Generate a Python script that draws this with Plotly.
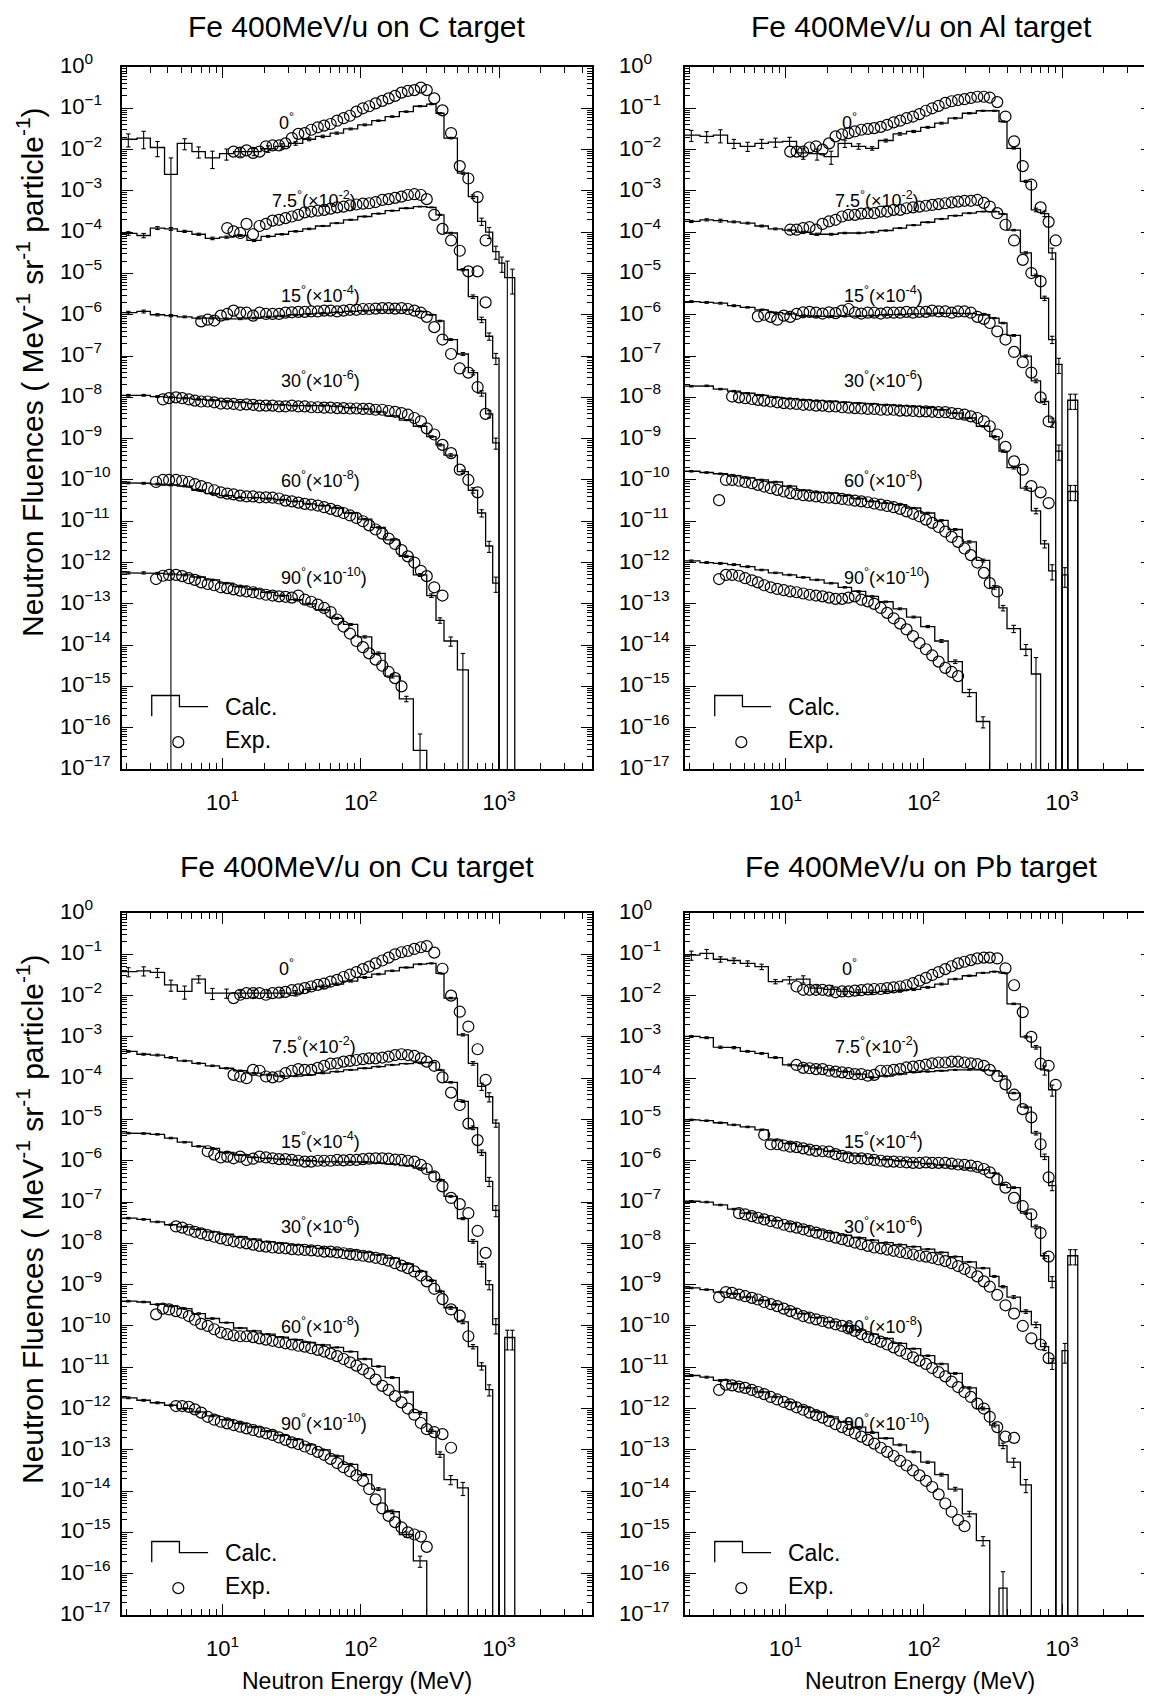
import plotly.graph_objects as go

FONT = "Liberation Sans, Arial, Helvetica, sans-serif"

# ---------------- data ----------------
# calculated histogram bin edges (MeV)
CALC_EDGES = [1.8, 2.4, 3.0, 3.8, 4.7, 6.0, 7.5, 9.5, 12, 15, 19, 24, 30, 38, 47, 60, 75, 95,
              120, 150, 190, 240, 300, 350, 400, 500, 600, 700, 800, 900, 1000, 1100, 1200, 1300]
# experimental energy grid (MeV)
EXP_E = [3.0, 3.3, 3.7, 4.1, 4.6, 5.1, 5.7, 6.3, 7.0, 7.8, 8.7, 9.7, 10.8, 12.0, 13.4, 14.9, 16.6,
         18.5, 20.6, 23, 25.6, 28.5, 31.7, 35.3, 39.3, 43.8, 48.8, 54.3, 60.5, 67.4, 75, 83.5, 93,
         103.6, 115, 128, 143, 159, 177, 197, 219, 244, 272, 300, 340, 390, 450, 520, 600, 700,
         800, 900, 1000]

TARGETS = ["C", "Al", "Cu", "Pb"]
PREFIX = ["C", "AL", "CU", "PB"]
ANGLES = ["0", "7.5", "15", "30", "60", "90"]
SCALE_POW = [0, -2, -4, -6, -8, -10]

# values: log10 of fluence (MeV-1 sr-1 particle-1), None = empty bin
# ---- C target ----
C_A0_CALC_LOG = [-1.75, -1.72, -1.95, -2.6, -1.85, -2.05, -2.2, -2.1, -2.05, -2.05, -1.98, -1.92, -1.85, -1.75, -1.68, -1.6, -1.5, -1.4, -1.3, -1.2, -1.08, -0.95, -0.9, -1.12, -1.72, -2.57, -3.14, -3.74, -4.0, -4.47, -4.75, -5.1, -5.1]
C_A1_CALC_LOG = [-2.03, -2.08, -1.9, -1.92, -1.98, -2.05, -2.15, -2.12, -2.08, -2.2, -2.1, -2.05, -1.98, -1.92, -1.85, -1.78, -1.7, -1.62, -1.55, -1.48, -1.42, -1.38, -1.4, -1.58, -2.02, -2.91, -3.56, -4.12, -4.52, -5.05, None, None, None]
C_A2_CALC_LOG = [-1.95, -1.92, -2.0, -2.02, -2.05, -2.08, -2.08, -2.1, -2.1, -2.08, -2.05, -2.03, -2.0, -1.98, -1.96, -1.94, -1.92, -1.9, -1.88, -1.87, -1.88, -1.92, -2.0, -2.15, -2.6, -2.95, -3.4, -3.9, -4.4, -5.1, None, None, None]
C_A3_CALC_LOG = [-1.95, -1.95, -1.98, -2.0, -2.02, -2.05, -2.07, -2.1, -2.12, -2.15, -2.17, -2.18, -2.2, -2.2, -2.2, -2.22, -2.25, -2.28, -2.35, -2.45, -2.55, -2.7, -2.95, -3.15, -3.4, -3.8, -4.25, -4.8, -5.6, -6.5, None, None, None]
C_A4_CALC_LOG = [-2.07, -2.08, -2.1, -2.12, -2.15, -2.25, -2.33, -2.38, -2.42, -2.43, -2.45, -2.48, -2.52, -2.58, -2.62, -2.68, -2.8, -2.95, -3.15, -3.45, -3.85, -4.3, -4.8, -5.4, -5.9, -6.6, None, None, None, None, None, None, None]
C_A5_CALC_LOG = [-2.25, -2.25, -2.26, -2.28, -2.3, -2.35, -2.42, -2.5, -2.58, -2.65, -2.72, -2.8, -2.9, -3.0, -3.15, -3.35, -3.5, -3.8, -4.2, -4.75, -5.3, -6.55, None, None, None, None, None, None, None, None, None, None, None]
C_A0_ERR_PCT = [35, 45, 40, 150, 30, 30, 45, 30, 25, 20, 18, 15, 10, 8, 7, 6, 5, 5, 4, 4, 4, 3, 3, 3, 4, 6, 10, 20, 30, 35, 40, 150, 60]
C_A1_ERR_PCT = [10, 12, 8, 8, 6, 6, 7, 6, 5, 6, 5, 4, 4, 4, 3, 3, 3, 3, 3, 3, 3, 2, 2, 3, 4, 6, 10, 15, 20, 30, 0, 0, 0]
C_A2_ERR_PCT = [8, 8, 6, 6, 5, 5, 5, 5, 4, 4, 4, 4, 3, 3, 3, 3, 3, 3, 3, 2, 2, 2, 3, 4, 5, 8, 12, 15, 20, 30, 0, 0, 0]
C_A3_ERR_PCT = [5, 5, 5, 4, 4, 4, 4, 4, 3, 3, 3, 3, 3, 3, 3, 3, 3, 3, 3, 3, 3, 4, 5, 6, 8, 10, 15, 20, 30, 40, 0, 0, 0]
C_A4_ERR_PCT = [5, 5, 5, 5, 4, 4, 4, 4, 4, 3, 3, 3, 3, 3, 3, 3, 3, 4, 4, 5, 6, 8, 10, 15, 25, 150, 0, 0, 0, 0, 0, 0, 0]
C_A5_ERR_PCT = [6, 6, 5, 5, 5, 5, 4, 4, 4, 4, 4, 4, 4, 4, 4, 5, 5, 6, 8, 10, 15, 150, 0, 0, 0, 0, 0, 0, 0, 0, 0, 0, 0]
C_A0_EXP_I0 = 13
C_A0_EXP_LOG = [-2.05, -2.07, -2.02, -2.08, -2.05, -1.92, -1.9, -1.9, -1.85, -1.72, -1.62, -1.6, -1.52, -1.46, -1.42, -1.38, -1.3, -1.24, -1.18, -1.08, -1.0, -0.95, -0.88, -0.82, -0.76, -0.7, -0.62, -0.58, -0.56, -0.5, -0.56, -0.76, -1.05, -1.6, -2.4, -2.7, -3.15, -4.2]
C_A1_EXP_I0 = 12
C_A1_EXP_LOG = [-1.9, -1.98, -2.02, -1.8, -2.05, -1.85, -1.8, -1.72, -1.7, -1.66, -1.62, -1.58, -1.52, -1.5, -1.48, -1.46, -1.43, -1.4, -1.38, -1.35, -1.33, -1.31, -1.3, -1.27, -1.22, -1.2, -1.17, -1.14, -1.1, -1.08, -1.1, -1.2, -1.58, -1.92, -2.2, -2.45, -2.95, -2.95, -3.7]
C_A2_EXP_I0 = 8
C_A2_EXP_LOG = [-2.16, -2.12, -2.14, -2.02, -1.98, -1.9, -1.95, -1.95, -2.02, -1.95, -1.98, -1.98, -1.98, -1.95, -1.94, -1.93, -1.93, -1.92, -1.92, -1.9, -1.9, -1.92, -1.9, -1.88, -1.88, -1.86, -1.86, -1.85, -1.84, -1.84, -1.85, -1.84, -1.86, -1.9, -1.95, -2.05, -2.3, -2.6, -2.95, -3.3, -3.4, -3.75, -4.4]
C_A3_EXP_I0 = 2
C_A3_EXP_LOG = [-2.05, -2.02, -2.0, -2.02, -2.05, -2.08, -2.1, -2.1, -2.12, -2.15, -2.15, -2.16, -2.18, -2.17, -2.18, -2.2, -2.2, -2.2, -2.22, -2.22, -2.2, -2.22, -2.22, -2.24, -2.24, -2.25, -2.25, -2.26, -2.26, -2.27, -2.27, -2.28, -2.28, -2.3, -2.3, -2.33, -2.35, -2.38, -2.42, -2.5, -2.58, -2.75, -2.9, -3.15, -3.35, -3.75, -4.0, -4.3]
C_A4_EXP_I0 = 1
C_A4_EXP_LOG = [-2.05, -2.0, -2.0, -2.0, -2.02, -2.05, -2.1, -2.15, -2.2, -2.25, -2.3, -2.33, -2.35, -2.38, -2.4, -2.4, -2.42, -2.42, -2.43, -2.45, -2.5, -2.52, -2.55, -2.58, -2.6, -2.62, -2.66, -2.7, -2.75, -2.8, -2.86, -2.92, -3.0, -3.1, -3.2, -3.3, -3.42, -3.55, -3.7, -3.85, -4.0, -4.2, -4.33, -4.6, -4.8]
C_A5_EXP_I0 = 1
C_A5_EXP_LOG = [-2.4, -2.32, -2.3, -2.3, -2.33, -2.38, -2.42, -2.48, -2.52, -2.55, -2.6, -2.62, -2.65, -2.68, -2.7, -2.72, -2.75, -2.78, -2.8, -2.82, -2.83, -2.85, -2.8, -2.9, -2.95, -3.02, -3.1, -3.2, -3.38, -3.55, -3.72, -3.9, -4.05, -4.2, -4.35, -4.5, -4.65, -4.8, -5.0]

# ---- Al target ----
AL_A0_CALC_LOG = [-1.65, -1.68, -1.65, -1.85, -1.92, -1.85, -1.82, -1.8, -2.08, -2.1, -2.17, -1.85, -1.92, -1.97, -1.78, -1.62, -1.56, -1.46, -1.36, -1.24, -1.12, -1.06, -1.06, -1.32, -1.97, -2.77, -3.46, -3.55, -4.5, None, None, None, None]
AL_A1_CALC_LOG = [-1.74, -1.7, -1.72, -1.75, -1.78, -1.85, -1.92, -1.95, -2.0, -2.05, -2.05, -2.02, -2.02, -2.0, -1.96, -1.9, -1.83, -1.76, -1.68, -1.6, -1.54, -1.5, -1.5, -1.56, -1.95, -2.5, -3.05, -3.6, -4.6, -5.2, None, -6.07, -6.07]
AL_A2_CALC_LOG = [-1.68, -1.7, -1.72, -1.78, -1.82, -1.88, -1.95, -1.98, -2.02, -2.04, -2.04, -2.04, -2.03, -2.02, -2.0, -1.99, -1.98, -1.97, -1.96, -1.96, -1.97, -2.0, -2.08, -2.2, -2.5, -3.0, -3.6, -4.1, -4.6, -5.3, None, -6.28, -6.28]
AL_A3_CALC_LOG = [-1.73, -1.72, -1.8, -1.85, -1.9, -1.95, -2.0, -2.03, -2.06, -2.08, -2.1, -2.12, -2.14, -2.16, -2.18, -2.2, -2.22, -2.25, -2.3, -2.38, -2.5, -2.7, -2.95, -3.3, -3.7, -4.2, -4.75, -5.55, -6.2, None, -6.3, None, None]
AL_A4_CALC_LOG = [-1.79, -1.82, -1.85, -1.9, -1.95, -2.0, -2.05, -2.15, -2.25, -2.3, -2.32, -2.38, -2.45, -2.52, -2.56, -2.6, -2.68, -2.8, -2.98, -3.2, -3.5, -3.95, -4.6, -5.1, -5.6, -6.1, -6.7, None, None, None, None, None, None]
AL_A5_CALC_LOG = [-1.96, -2.0, -2.02, -2.05, -2.1, -2.18, -2.25, -2.3, -2.36, -2.42, -2.5, -2.6, -2.7, -2.82, -2.95, -3.12, -3.32, -3.55, -3.9, -4.4, -5.15, -5.85, None, None, None, None, None, None, None, None, None, None, None]
AL_A0_ERR_PCT = [30, 30, 35, 25, 25, 25, 25, 25, 30, 30, 35, 20, 15, 10, 8, 7, 6, 5, 5, 4, 4, 3, 3, 3, 4, 6, 10, 15, 30, 0, 0, 0, 0]
AL_A1_ERR_PCT = [6, 6, 8, 5, 5, 5, 5, 5, 5, 6, 5, 4, 4, 4, 3, 3, 3, 3, 3, 3, 3, 2, 2, 3, 4, 6, 8, 12, 20, 40, 0, 40, 40]
AL_A2_ERR_PCT = [5, 5, 5, 5, 4, 4, 4, 4, 4, 4, 4, 3, 3, 3, 3, 3, 3, 3, 3, 2, 2, 2, 3, 4, 5, 6, 10, 15, 25, 40, 0, 40, 40]
AL_A3_ERR_PCT = [4, 4, 4, 4, 4, 4, 3, 3, 3, 3, 3, 3, 3, 3, 3, 3, 3, 3, 3, 3, 3, 4, 5, 6, 8, 10, 15, 20, 40, 0, 50, 0, 0]
AL_A4_ERR_PCT = [4, 4, 4, 4, 4, 4, 4, 4, 3, 3, 3, 3, 3, 3, 3, 3, 3, 4, 4, 5, 6, 8, 10, 15, 20, 30, 150, 0, 0, 0, 0, 0, 0]
AL_A5_ERR_PCT = [5, 5, 5, 5, 5, 4, 4, 4, 4, 4, 4, 4, 4, 4, 4, 5, 5, 6, 8, 10, 20, 30, 0, 0, 0, 0, 0, 0, 0, 0, 0, 0, 0]
AL_A0_EXP_I0 = 12
AL_A0_EXP_LOG = [-2.05, -2.05, -2.05, -1.95, -1.92, -2.0, -1.85, -1.68, -1.63, -1.6, -1.56, -1.52, -1.5, -1.48, -1.45, -1.4, -1.34, -1.3, -1.24, -1.2, -1.14, -1.06, -1.0, -0.94, -0.87, -0.83, -0.8, -0.78, -0.75, -0.72, -0.72, -0.74, -0.85, -1.2, -1.8, -2.4, -2.85, -3.4, -3.75, -4.2]
AL_A1_EXP_I0 = 12
AL_A1_EXP_LOG = [-1.94, -1.94, -1.9, -1.88, -1.94, -1.8, -1.74, -1.7, -1.62, -1.58, -1.58, -1.55, -1.54, -1.54, -1.5, -1.5, -1.46, -1.46, -1.42, -1.4, -1.38, -1.36, -1.34, -1.32, -1.3, -1.28, -1.26, -1.24, -1.24, -1.22, -1.29, -1.38, -1.54, -1.82, -2.2, -2.67, -2.99, -3.19]
AL_A2_EXP_I0 = 7
AL_A2_EXP_LOG = [-2.04, -2.0, -2.05, -2.12, -2.02, -2.05, -1.98, -1.94, -1.93, -1.95, -1.97, -1.94, -1.96, -1.9, -1.86, -1.95, -1.97, -1.95, -1.95, -1.97, -1.95, -1.95, -1.95, -1.93, -1.95, -1.93, -1.93, -1.9, -1.92, -1.92, -1.95, -1.92, -1.92, -1.95, -2.05, -2.1, -2.2, -2.4, -2.6, -2.9, -3.15, -3.4, -4.0, -4.58]
AL_A3_EXP_I0 = 3
AL_A3_EXP_LOG = [-1.98, -2.0, -2.02, -2.04, -2.06, -2.08, -2.1, -2.12, -2.14, -2.15, -2.16, -2.18, -2.18, -2.2, -2.2, -2.22, -2.22, -2.24, -2.25, -2.26, -2.27, -2.28, -2.28, -2.3, -2.3, -2.3, -2.32, -2.32, -2.33, -2.34, -2.34, -2.35, -2.36, -2.36, -2.38, -2.4, -2.42, -2.46, -2.5, -2.58, -2.7, -2.9, -3.2, -3.55, -3.75, -4.15, -4.3, -4.56]
AL_A4_EXP_I0 = 1
AL_A4_EXP_LOG = [-2.49, -2.0, -2.0, -2.02, -2.05, -2.08, -2.12, -2.16, -2.2, -2.24, -2.28, -2.32, -2.34, -2.37, -2.38, -2.4, -2.42, -2.43, -2.44, -2.46, -2.48, -2.5, -2.52, -2.54, -2.57, -2.6, -2.63, -2.66, -2.7, -2.76, -2.82, -2.88, -2.96, -3.04, -3.14, -3.25, -3.38, -3.5, -3.66, -3.82, -4.0, -4.25, -4.5, -4.7]
AL_A5_EXP_I0 = 1
AL_A5_EXP_LOG = [-2.4, -2.3, -2.3, -2.32, -2.38, -2.43, -2.48, -2.55, -2.6, -2.64, -2.67, -2.7, -2.72, -2.75, -2.78, -2.8, -2.82, -2.85, -2.88, -2.88, -2.85, -2.82, -2.9, -2.94, -3.0, -3.1, -3.22, -3.35, -3.48, -3.62, -3.78, -3.95, -4.1, -4.25, -4.4, -4.55, -4.65, -4.75]

# ---- Cu target ----
CU_A0_CALC_LOG = [-1.42, -1.4, -1.44, -1.74, -1.9, -1.6, -1.94, -1.94, -1.95, -1.95, -1.95, -1.95, -1.94, -1.85, -1.78, -1.72, -1.65, -1.56, -1.48, -1.4, -1.32, -1.24, -1.22, -1.46, -2.06, -2.95, -3.64, -4.2, -4.45, -5.09, None, None, None]
CU_A1_CALC_LOG = [-1.35, -1.42, -1.44, -1.5, -1.58, -1.64, -1.7, -1.76, -1.82, -1.88, -1.92, -1.95, -1.95, -1.92, -1.88, -1.84, -1.8, -1.76, -1.72, -1.68, -1.65, -1.62, -1.62, -1.8, -2.1, -2.56, -3.2, -3.8, -4.5, -5.2, None, None, None]
CU_A2_CALC_LOG = [-1.33, -1.34, -1.36, -1.45, -1.55, -1.65, -1.7, -1.8, -1.86, -1.92, -1.94, -1.96, -1.98, -2.0, -2.02, -2.02, -2.02, -2.03, -2.05, -2.08, -2.12, -2.18, -2.28, -2.46, -2.86, -3.4, -3.95, -4.5, -5.0, -5.97, None, -6.28, -6.28]
CU_A3_CALC_LOG = [-1.39, -1.42, -1.48, -1.55, -1.6, -1.66, -1.72, -1.78, -1.84, -1.9, -1.96, -2.0, -2.04, -2.08, -2.12, -2.15, -2.18, -2.22, -2.28, -2.36, -2.5, -2.68, -2.9, -3.16, -3.56, -3.9, -4.5, -4.97, -5.54, None, None, None, None]
CU_A4_CALC_LOG = [-1.4, -1.42, -1.48, -1.52, -1.58, -1.7, -1.82, -1.92, -2.05, -2.12, -2.2, -2.27, -2.33, -2.4, -2.46, -2.52, -2.62, -2.8, -2.98, -3.25, -3.6, -4.1, -4.55, -5.11, -5.72, -5.92, None, None, None, None, None, None, None]
CU_A5_CALC_LOG = [-1.74, -1.8, -1.86, -1.92, -2.0, -2.08, -2.18, -2.27, -2.36, -2.45, -2.55, -2.65, -2.75, -2.88, -3.0, -3.15, -3.35, -3.6, -3.95, -4.5, -5.05, -5.69, None, None, None, None, None, None, None, None, None, None, None]
CU_A0_ERR_PCT = [25, 25, 25, 30, 35, 20, 30, 25, 20, 20, 20, 18, 15, 10, 8, 6, 5, 5, 4, 4, 3, 3, 3, 3, 4, 6, 10, 20, 25, 20, 0, 0, 0]
CU_A1_ERR_PCT = [5, 5, 5, 5, 4, 4, 4, 4, 4, 4, 4, 4, 3, 3, 3, 3, 3, 3, 3, 3, 2, 2, 2, 3, 4, 6, 10, 15, 25, 30, 0, 0, 0]
CU_A2_ERR_PCT = [4, 4, 4, 4, 4, 4, 4, 4, 3, 3, 3, 3, 3, 3, 3, 3, 3, 3, 3, 2, 2, 2, 3, 4, 5, 6, 10, 15, 25, 40, 0, 50, 50]
CU_A3_ERR_PCT = [4, 4, 4, 4, 4, 4, 3, 3, 3, 3, 3, 3, 3, 3, 3, 3, 3, 3, 3, 3, 3, 4, 5, 6, 8, 10, 12, 20, 30, 0, 0, 0, 0]
CU_A4_ERR_PCT = [4, 4, 4, 4, 4, 4, 4, 3, 3, 3, 3, 3, 3, 3, 3, 3, 3, 4, 4, 5, 6, 8, 10, 15, 25, 35, 0, 0, 0, 0, 0, 0, 0]
CU_A5_ERR_PCT = [5, 5, 5, 5, 4, 4, 4, 4, 4, 4, 4, 4, 4, 4, 4, 5, 5, 6, 8, 10, 15, 30, 0, 0, 0, 0, 0, 0, 0, 0, 0, 0, 0]
CU_A0_EXP_I0 = 13
CU_A0_EXP_LOG = [-2.06, -1.98, -1.94, -1.94, -1.94, -1.98, -1.94, -1.93, -1.91, -1.87, -1.85, -1.82, -1.78, -1.74, -1.71, -1.66, -1.62, -1.55, -1.49, -1.43, -1.36, -1.3, -1.22, -1.15, -1.08, -1.0, -0.95, -0.92, -0.87, -0.83, -0.8, -0.96, -1.35, -2.0, -2.39, -2.75, -3.3, -4.04]
CU_A1_EXP_I0 = 13
CU_A1_EXP_LOG = [-1.92, -1.96, -2.0, -1.8, -1.82, -1.96, -1.98, -1.96, -1.88, -1.82, -1.78, -1.8, -1.8, -1.75, -1.7, -1.65, -1.64, -1.6, -1.58, -1.56, -1.54, -1.52, -1.52, -1.5, -1.48, -1.44, -1.42, -1.44, -1.46, -1.52, -1.6, -1.7, -1.98, -2.35, -2.65, -3.1, -3.5]
CU_A2_EXP_I0 = 9
CU_A2_EXP_LOG = [-1.77, -1.85, -1.92, -1.9, -1.94, -1.9, -1.98, -1.95, -1.9, -1.92, -1.94, -1.96, -1.96, -1.98, -2.0, -2.02, -2.02, -2.0, -2.0, -2.0, -1.98, -1.99, -1.98, -1.98, -1.96, -1.95, -1.94, -1.94, -1.95, -1.97, -1.98, -2.0, -2.02, -2.1, -2.2, -2.38, -2.62, -2.9, -3.05, -3.27, -3.7, -4.23]
CU_A3_EXP_I0 = 4
CU_A3_EXP_LOG = [-1.59, -1.62, -1.67, -1.72, -1.76, -1.8, -1.84, -1.88, -1.92, -1.95, -1.98, -2.0, -2.03, -2.06, -2.08, -2.1, -2.11, -2.12, -2.14, -2.15, -2.16, -2.17, -2.18, -2.2, -2.2, -2.22, -2.24, -2.26, -2.28, -2.3, -2.32, -2.35, -2.38, -2.42, -2.48, -2.54, -2.6, -2.68, -2.78, -2.92, -3.1, -3.35, -3.6, -3.75, -4.25]
CU_A4_EXP_I0 = 1
CU_A4_EXP_LOG = [-1.72, -1.58, -1.6, -1.64, -1.68, -1.76, -1.85, -1.95, -2.0, -2.08, -2.16, -2.2, -2.23, -2.25, -2.25, -2.27, -2.3, -2.33, -2.36, -2.39, -2.42, -2.45, -2.48, -2.5, -2.54, -2.58, -2.62, -2.67, -2.73, -2.8, -2.88, -2.96, -3.05, -3.15, -3.3, -3.45, -3.55, -3.7, -3.85, -4.0, -4.15, -4.35, -4.5, -4.57, -4.62, -4.95]
CU_A5_EXP_I0 = 4
CU_A5_EXP_LOG = [-1.94, -1.94, -1.96, -2.02, -2.1, -2.2, -2.27, -2.32, -2.36, -2.4, -2.44, -2.48, -2.52, -2.56, -2.6, -2.64, -2.7, -2.76, -2.82, -2.86, -2.92, -2.98, -3.05, -3.12, -3.22, -3.32, -3.42, -3.52, -3.62, -3.75, -3.95, -4.2, -4.42, -4.6, -4.75, -4.88, -5.0, -5.05, -5.1, -5.35]

# ---- Pb target ----
PB_A0_CALC_LOG = [-1.02, -0.98, -1.12, -1.15, -1.22, -1.3, -1.66, -1.62, -1.6, -1.82, -1.85, -1.9, -1.92, -1.92, -1.9, -1.88, -1.85, -1.8, -1.72, -1.6, -1.52, -1.45, -1.42, -1.45, -2.2, -3.0, -3.25, -3.8, -4.28, None, None, None, None]
PB_A1_CALC_LOG = [-0.99, -1.02, -1.25, -1.26, -1.35, -1.4, -1.5, -1.68, -1.7, -1.75, -1.8, -1.84, -1.9, -1.98, -1.95, -1.9, -1.86, -1.84, -1.82, -1.8, -1.79, -1.8, -1.82, -1.95, -2.36, -2.7, -3.33, -3.9, -4.6, None, None, None, None]
PB_A2_CALC_LOG = [-1.01, -1.03, -1.08, -1.13, -1.18, -1.25, -1.5, -1.58, -1.65, -1.72, -1.77, -1.82, -1.88, -1.93, -1.97, -2.0, -2.03, -2.07, -2.1, -2.13, -2.17, -2.22, -2.3, -2.58, -2.65, -3.27, -3.6, -4.3, -4.92, None, None, -4.3, -4.3]
PB_A3_CALC_LOG = [-0.98, -1.0, -1.07, -1.17, -1.27, -1.37, -1.45, -1.52, -1.6, -1.68, -1.74, -1.8, -1.86, -1.92, -1.98, -2.03, -2.08, -2.14, -2.22, -2.32, -2.45, -2.6, -2.8, -3.05, -3.3, -3.65, -3.97, -4.5, -4.9, None, -4.6, None, None]
PB_A4_CALC_LOG = [-1.08, -1.12, -1.18, -1.22, -1.3, -1.38, -1.48, -1.6, -1.7, -1.8, -1.9, -2.0, -2.1, -2.2, -2.3, -2.42, -2.55, -2.72, -2.92, -3.15, -3.5, -4.0, -4.4, -4.9, -5.3, -5.85, None, None, None, None, None, None, None]
PB_A5_CALC_LOG = [-1.2, -1.24, -1.32, -1.4, -1.5, -1.6, -1.72, -1.85, -1.96, -2.08, -2.2, -2.32, -2.45, -2.58, -2.72, -2.88, -3.05, -3.3, -3.6, -3.95, -4.55, -5.2, None, -6.35, None, None, None, None, None, None, None, None, None]
PB_A0_ERR_PCT = [25, 25, 15, 15, 15, 15, 12, 20, 20, 20, 25, 15, 15, 12, 10, 8, 6, 5, 5, 4, 4, 3, 3, 3, 4, 6, 10, 25, 30, 0, 0, 0, 0]
PB_A1_ERR_PCT = [5, 5, 6, 6, 5, 5, 5, 5, 5, 5, 5, 4, 4, 5, 4, 4, 3, 3, 3, 3, 3, 2, 2, 3, 4, 6, 10, 15, 25, 0, 0, 0, 0]
PB_A2_ERR_PCT = [4, 4, 4, 4, 4, 4, 4, 4, 3, 3, 3, 3, 3, 3, 3, 3, 3, 3, 3, 3, 2, 2, 3, 4, 5, 6, 10, 15, 30, 0, 0, 40, 40]
PB_A3_ERR_PCT = [4, 4, 4, 4, 4, 4, 3, 3, 3, 3, 3, 3, 3, 3, 3, 3, 3, 3, 3, 3, 3, 4, 5, 6, 8, 10, 15, 20, 30, 0, 50, 0, 0]
PB_A4_ERR_PCT = [4, 4, 4, 4, 4, 4, 4, 3, 3, 3, 3, 3, 3, 3, 3, 3, 3, 4, 4, 5, 6, 8, 10, 15, 25, 35, 0, 0, 0, 0, 0, 0, 0]
PB_A5_ERR_PCT = [5, 5, 5, 5, 4, 4, 4, 4, 4, 4, 4, 4, 4, 4, 4, 5, 5, 6, 8, 10, 15, 25, 0, 150, 0, 0, 0, 0, 0, 0, 0, 0, 0]
PB_A0_EXP_I0 = 13
PB_A0_EXP_LOG = [-1.78, -1.86, -1.86, -1.86, -1.86, -1.88, -1.92, -1.9, -1.9, -1.88, -1.87, -1.85, -1.84, -1.84, -1.82, -1.8, -1.78, -1.75, -1.7, -1.64, -1.57, -1.5, -1.43, -1.36, -1.29, -1.22, -1.18, -1.14, -1.1, -1.08, -1.08, -1.1, -1.34, -1.75, -2.4, -3.0, -3.65, -3.7, -4.16]
PB_A1_EXP_I0 = 13
PB_A1_EXP_LOG = [-1.68, -1.75, -1.76, -1.78, -1.78, -1.82, -1.84, -1.86, -1.88, -1.9, -1.9, -1.94, -1.92, -1.82, -1.82, -1.8, -1.78, -1.74, -1.72, -1.7, -1.67, -1.64, -1.62, -1.62, -1.6, -1.6, -1.62, -1.64, -1.66, -1.7, -1.8, -1.95, -2.15, -2.4, -2.75, -2.95, -3.6, -4.4]
PB_A2_EXP_I0 = 8
PB_A2_EXP_LOG = [-1.37, -1.6, -1.6, -1.63, -1.66, -1.67, -1.7, -1.73, -1.76, -1.77, -1.78, -1.84, -1.88, -1.92, -1.94, -1.94, -1.96, -1.98, -2.0, -2.02, -2.02, -2.03, -2.04, -2.05, -2.05, -2.04, -2.05, -2.05, -2.05, -2.07, -2.09, -2.1, -2.12, -2.15, -2.2, -2.28, -2.45, -2.65, -2.9, -3.1, -3.3, -3.75, -4.32]
PB_A3_EXP_I0 = 4
PB_A3_EXP_LOG = [-1.27, -1.3, -1.34, -1.38, -1.42, -1.46, -1.5, -1.55, -1.59, -1.62, -1.66, -1.7, -1.74, -1.78, -1.82, -1.86, -1.9, -1.94, -1.98, -2.02, -2.06, -2.1, -2.12, -2.15, -2.18, -2.21, -2.24, -2.27, -2.3, -2.32, -2.35, -2.39, -2.43, -2.48, -2.55, -2.62, -2.7, -2.8, -2.92, -3.05, -3.25, -3.5, -3.7, -4.0, -4.3, -4.45, -4.78]
PB_A4_EXP_I0 = 1
PB_A4_EXP_LOG = [-1.3, -1.18, -1.2, -1.24, -1.28, -1.32, -1.36, -1.42, -1.47, -1.52, -1.58, -1.64, -1.7, -1.76, -1.8, -1.84, -1.88, -1.92, -1.96, -2.0, -2.06, -2.12, -2.2, -2.27, -2.32, -2.38, -2.45, -2.52, -2.6, -2.68, -2.76, -2.84, -2.92, -3.02, -3.12, -3.22, -3.35, -3.48, -3.6, -3.72, -3.88, -4.0, -4.2, -4.45, -4.68, -4.71]
PB_A5_EXP_I0 = 1
PB_A5_EXP_LOG = [-1.55, -1.42, -1.44, -1.47, -1.5, -1.55, -1.6, -1.65, -1.72, -1.78, -1.84, -1.9, -1.97, -2.03, -2.1, -2.16, -2.22, -2.3, -2.38, -2.45, -2.52, -2.6, -2.68, -2.76, -2.85, -2.95, -3.05, -3.15, -3.27, -3.38, -3.5, -3.62, -3.75, -3.9, -4.08, -4.3, -4.5, -4.7, -4.85]

# ---------------- layout geometry (screen pixels) ----------------
SCREEN_W, SCREEN_H = 1152, 1698
OFF = 8                      # page body margin of the html page
W, H = SCREEN_W - OFF, SCREEN_H - OFF
PANEL_X = [(122, 592), (685, 1152)]
PANEL_Y = [(67, 769), (913, 1615)]
YLABEL_X = [58, 617]
PX_PER_DECADE = 138.2
X_LOG_MIN = 0.272
FLOOR = 1e-21
CAP = 10 ** 0.016


def px(x):
    return (x - OFF) / W


def py(y):
    return 1 - (y - OFF) / H


G = globals()
fig = go.Figure()
annotations = []


def sup_exp(n):
    return "10<sup>%s</sup>" % (str(n) if n >= 0 else "\u2212" + str(-n))


for p, tgt in enumerate(TARGETS):
    row, col = divmod(p, 2)
    xa = "x" if p == 0 else "x%d" % (p + 1)
    ya = "y" if p == 0 else "y%d" % (p + 1)
    hx, hy, ex, ey, mx, my = [], [], [], [], [], []
    for k in range(6):
        pre = "%s_A%d" % (PREFIX[p], k)
        calc = G[pre + "_CALC_LOG"]
        err = G[pre + "_ERR_PCT"]
        i0 = G[pre + "_EXP_I0"]
        expv = G[pre + "_EXP_LOG"]
        s = 10.0 ** SCALE_POW[k]
        vals = [0.0 if v is None else (10.0 ** v) * s for v in calc]
        for j, v in enumerate(vals):
            yv = v if v > 0 else FLOOR
            hx += [CALC_EDGES[j], CALC_EDGES[j + 1]]
            hy += [yv, yv]
        hx += [CALC_EDGES[len(vals)], None]
        hy += [FLOOR, None]
        for j, v in enumerate(vals):
            e_pct = err[j] if j < len(err) else 0
            if v <= 0 or e_pct <= 0:
                continue
            c = (CALC_EDGES[j] * CALC_EDGES[j + 1]) ** 0.5
            e = v * e_pct / 100.0
            hi = v + e
            lo = v - e if e < v else FLOOR
            ex += [c, c, None, c / CAP, c * CAP, None]
            ey += [lo, hi, None, hi, hi, None]
            if lo > FLOOR:
                ex += [c / CAP, c * CAP, None]
                ey += [lo, lo, None]
        for j, v in enumerate(expv):
            if i0 + j < len(EXP_E):
                mx.append(EXP_E[i0 + j])
                my.append((10.0 ** v) * s)
    fig.add_trace(go.Scatter(x=hx, y=hy, mode="lines", line=dict(color="black", width=1.3),
                             xaxis=xa, yaxis=ya, showlegend=False, hoverinfo="skip"))
    fig.add_trace(go.Scatter(x=ex, y=ey, mode="lines", line=dict(color="black", width=1.1),
                             xaxis=xa, yaxis=ya, showlegend=False, hoverinfo="skip"))
    fig.add_trace(go.Scatter(x=mx, y=my, mode="markers",
                             marker=dict(symbol="circle-open", size=11, color="black",
                                         line=dict(width=1.2, color="black")),
                             xaxis=xa, yaxis=ya, showlegend=False, hoverinfo="skip"))
    # legend glyphs
    fig.add_trace(go.Scatter(x=[3.07, 3.07, 4.87, 4.87, 7.85],
                             y=[10 ** -15.72, 10 ** -15.22, 10 ** -15.22, 10 ** -15.49, 10 ** -15.49],
                             mode="lines", line=dict(color="black", width=1.3),
                             xaxis=xa, yaxis=ya, showlegend=False, hoverinfo="skip"))
    fig.add_trace(go.Scatter(x=[4.78], y=[10 ** -16.35], mode="markers",
                             marker=dict(symbol="circle-open", size=11, color="black",
                                         line=dict(width=1.2, color="black")),
                             xaxis=xa, yaxis=ya, showlegend=False, hoverinfo="skip"))
    annotations.append(dict(text="Calc.", x=1.0, y=-15.5, xref=xa, yref=ya, showarrow=False,
                            xanchor="left", yanchor="middle", font=dict(size=23)))
    annotations.append(dict(text="Exp.", x=1.0, y=-16.3, xref=xa, yref=ya, showarrow=False,
                            xanchor="left", yanchor="middle", font=dict(size=23)))
    # angle labels
    label_pos = [(1.46, -1.33), (1.66, -3.2), (1.71, -5.5), (1.71, -7.57), (1.71, -9.99), (1.73, -12.33)]
    for k in range(6):
        if k == 0:
            txt = "0<sup>\u00b0</sup>"
        else:
            txt = "%s<sup>\u00b0</sup>(\u00d710<sup>%d</sup>)" % (ANGLES[k], SCALE_POW[k])
        annotations.append(dict(text=txt, x=label_pos[k][0], y=label_pos[k][1], xref=xa, yref=ya,
                                showarrow=False, xanchor="center", yanchor="middle",
                                font=dict(size=18)))
    # y tick labels, left-aligned as in the original figure
    for n in range(-17, 1):
        annotations.append(dict(text=sup_exp(n), x=px(YLABEL_X[col]), y=n, xref="paper", yref=ya,
                                showarrow=False, xanchor="left", yanchor="middle", yshift=3,
                                font=dict(size=22)))
    # axes
    x0, x1 = PANEL_X[col]
    y0, y1 = PANEL_Y[row]
    xr = [X_LOG_MIN, X_LOG_MIN + (x1 - x0) / PX_PER_DECADE]
    xminor = [m * 10 ** n for n in range(0, 4) for m in range(2, 10)]
    yminor = [m * 10.0 ** n for n in range(-17, 0) for m in range(2, 10)]
    common = dict(type="log", showline=True, linecolor="black", linewidth=1.5, mirror="allticks",
                  ticks="inside", tickcolor="black", tickwidth=1.2, showgrid=False, zeroline=False,
                  automargin=False, tickfont=dict(family=FONT, size=22, color="black"))
    fig.layout["xaxis" if p == 0 else "xaxis%d" % (p + 1)] = dict(
        common, domain=[px(x0), min(1.0, px(x1))], range=xr, anchor=ya, ticklen=11,
        tickmode="array", tickvals=[10, 100, 1000],
        ticktext=[sup_exp(1), sup_exp(2), sup_exp(3)], ticklabelstandoff=13,
        minor=dict(ticks="inside", ticklen=6, tickmode="array", tickvals=xminor,
                   tickcolor="black", tickwidth=1))
    fig.layout["yaxis" if p == 0 else "yaxis%d" % (p + 1)] = dict(
        common, domain=[py(y1), py(y0)], range=[-17, 0], anchor=xa, ticklen=11,
        tickmode="array", tickvals=[10.0 ** n for n in range(-17, 1)], showticklabels=False,
        minor=dict(ticks="inside", ticklen=5, tickmode="array", tickvals=yminor,
                   tickcolor="black", tickwidth=1))
    # panel title
    tx = px((x0 + x1) / 2 + (3 if col else 0))
    if row == 0:
        annotations.append(dict(text="Fe 400MeV/u on %s target" % tgt, x=tx, y=1.0,
                                xref="paper", yref="paper", showarrow=False, xanchor="center",
                                yanchor="top", font=dict(size=30)))
    else:
        annotations.append(dict(text="Fe 400MeV/u on %s target" % tgt, x=tx, y=py(866),
                                xref="paper", yref="paper", showarrow=False, xanchor="center",
                                yanchor="middle", font=dict(size=30)))

for row in range(2):
    annotations.append(dict(text="Neutron Fluences ( MeV<sup>-1</sup> sr<sup>-1</sup> particle<sup>-1</sup>)",
                            x=px(30), y=py(372 if row == 0 else 1219), xref="paper", yref="paper",
                            showarrow=False, textangle=-90, xanchor="center", yanchor="middle",
                            font=dict(size=30)))
for col in range(2):
    cx = (PANEL_X[col][0] + PANEL_X[col][1] + (3 if col else 0)) / 2
    annotations.append(dict(text="Neutron Energy (MeV)", x=px(cx), y=py(1681),
                            xref="paper", yref="paper", showarrow=False, xanchor="center",
                            yanchor="middle", font=dict(size=23)))

fig.update_layout(width=W, height=H, margin=dict(l=0, r=0, t=0, b=0, pad=0, autoexpand=False),
                  paper_bgcolor="white", plot_bgcolor="white",
                  font=dict(family=FONT, color="black"), annotations=annotations,
                  showlegend=False)
fig.write_html("out.html")
